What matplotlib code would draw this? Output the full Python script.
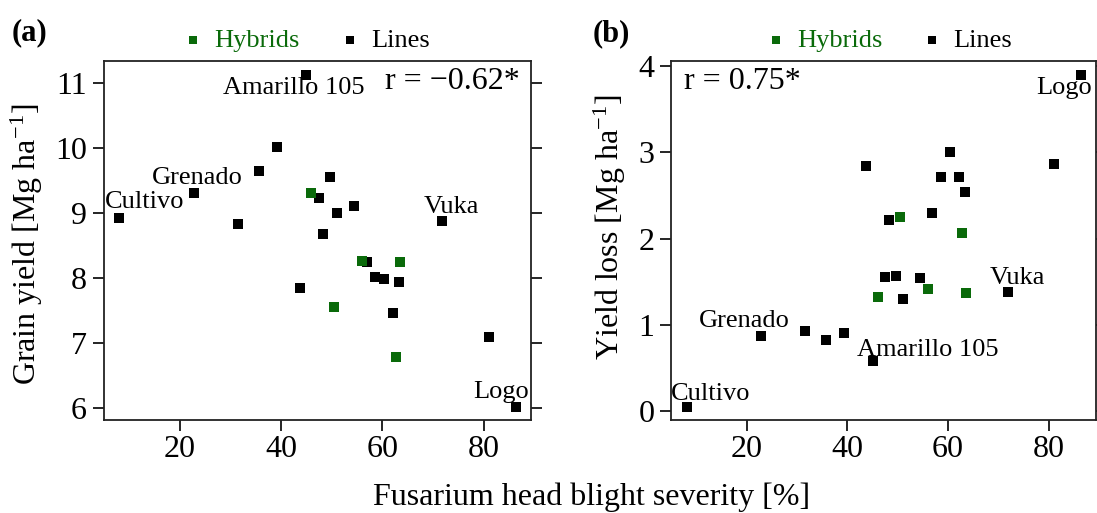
import matplotlib
matplotlib.use('Agg')
import matplotlib.pyplot as plt

plt.rcParams['font.family'] = ['Liberation Serif', 'DejaVu Serif']
plt.rcParams['mathtext.fontset'] = 'custom'
plt.rcParams['mathtext.rm'] = 'Liberation Serif'
plt.rcParams['mathtext.it'] = 'Liberation Serif:italic'

# FHB severity [%] of the lines and hybrids
severity_lines = [8.1, 22.8, 31.5, 35.7, 39.3, 43.8, 45.0, 47.5, 48.3, 49.7,
                  51.1, 54.4, 56.9, 58.5, 60.4, 62.2, 63.3, 71.8, 81.1, 86.3]
yield_lines = [8.92, 9.31, 8.83, 9.64, 10.01, 7.85, 11.12, 9.23, 8.67, 9.55,
               9.00, 9.10, 8.24, 8.02, 7.99, 7.46, 7.94, 8.87, 7.10, 6.02]
loss_lines = [0.05, 0.87, 0.93, 0.82, 0.91, 2.84, 0.58, 1.55, 2.21, 1.56,
              1.30, 1.54, 2.30, 2.72, 3.01, 2.71, 2.54, 1.38, 2.86, 3.90]

severity_hybrids = [46.0, 50.4, 56.0, 62.7, 63.5]
yield_hybrids = [9.30, 7.56, 8.26, 6.78, 8.24]
loss_hybrids = [1.32, 2.25, 1.42, 2.06, 1.37]

# named lines: index into the line arrays
named = {0: 'Cultivo', 1: 'Grenado', 6: 'Amarillo 105', 17: 'Vuka', 19: 'Logo'}

# label offsets in points (panel a / panel b)
offs_a = {0: (18, 11.5), 1: (2.5, 10.3), 6: (-9, -9.4), 17: (6.6, 10.5), 19: (-10.6, 11)}
offs_b = {0: (17.6, 8.9), 1: (-11.9, 10.8), 6: (39.5, 8.2), 17: (7.1, 10.1), 19: (-11.7, -9.6)}

green = '#0a6a0a'
W, H = 1097, 513


def panel(ax, yl, yh, offs, r_text, r_pos, r_ha, ylabel, ylim, yticks, lab_xy, leg_x):
    ax.scatter(severity_lines, yl, marker='s', s=46, color='black', lw=0, label='Lines', zorder=3)
    ax.scatter(severity_hybrids, yh, marker='s', s=46, color=green, lw=0, label='Hybrids', zorder=3)
    for i, name in named.items():
        ax.annotate(name, (severity_lines[i], yl[i]), xytext=offs[i], textcoords='offset points',
                    ha='center', va='center', fontsize=19)
    ax.text(r_pos[0], r_pos[1], r_text, transform=ax.transAxes, ha=r_ha, va='center', fontsize=23)
    ax.set_xlim(5, 89.3)
    ax.set_ylim(*ylim)
    ax.set_xticks([20, 40, 60, 80])
    ax.set_yticks(yticks)
    ax.tick_params(labelsize=23, length=8, width=1.2, direction='out', right=True, pad=4)
    ax.tick_params(axis='x', pad=3)
    for sp in ax.spines.values():
        sp.set_linewidth(1.3)
        sp.set_color('#222222')
    ax.set_ylabel(ylabel, fontsize=23, va='center')
    ax.yaxis.set_label_coords(*lab_xy)
    handles, labels = ax.get_legend_handles_labels()
    leg = ax.legend(handles[::-1], labels[::-1], loc='center', bbox_to_anchor=(leg_x, 1.058),
                    ncol=2, frameon=False, fontsize=19, markerscale=0.8,
                    handlelength=0.6, handletextpad=0.5, columnspacing=1.6,
                    borderpad=0, borderaxespad=0)
    leg.get_texts()[0].set_color(green)


fig = plt.figure(figsize=(W / 100, H / 100), dpi=100)
ax1 = fig.add_axes([103.7 / W, 1 - 420 / H, 427 / W, 359 / H])
ax2 = fig.add_axes([671 / W, 1 - 420 / H, 424.7 / W, 359 / H])

panel(ax1, yield_lines, yield_hybrids, offs_a, 'r = \u22120.62*', (0.975, 0.942), 'right',
      r'Grain yield [Mg ha$^{\mathrm{-1}}$]', (5.82, 11.33), [6, 7, 8, 9, 10, 11], (-0.18, 0.49), 0.4775)
panel(ax2, loss_lines, loss_hybrids, offs_b, 'r = 0.75*', (0.031, 0.942), 'left',
      r'Yield loss [Mg ha$^{\mathrm{-1}}$]', (-0.105, 4.06), [0, 1, 2, 3, 4], (-0.144, 0.536), 0.516)

fig.text(29.5 / W, 1 - 33 / H, '(a)', fontsize=22, fontweight='bold', ha='center', va='center')
fig.text(611.5 / W, 1 - 34 / H, '(b)', fontsize=22, fontweight='bold', ha='center', va='center')
fig.text(591.5 / W, 1 - 497 / H, 'Fusarium head blight severity [%]', fontsize=23, ha='center', va='center')

fig.savefig('out.png', dpi=100)
